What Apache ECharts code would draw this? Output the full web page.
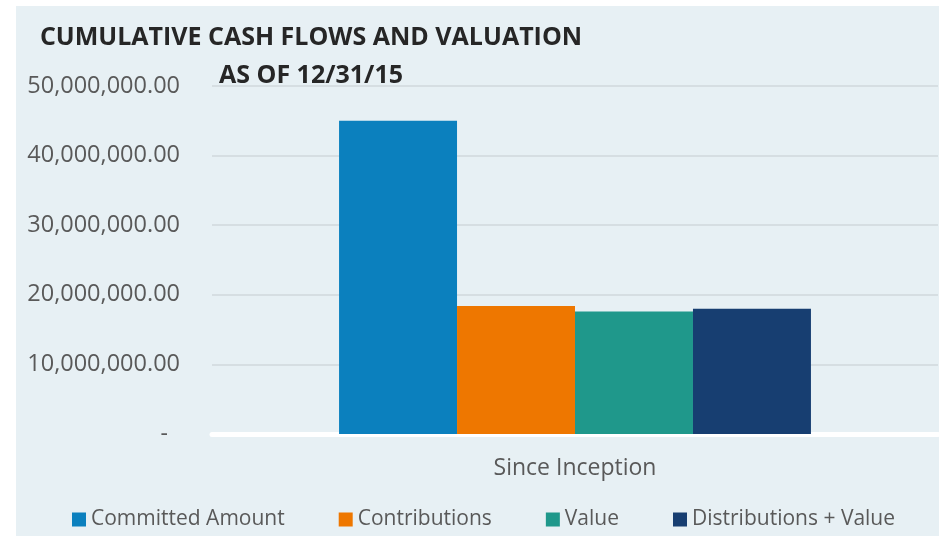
<!DOCTYPE html>
<html>
<head>
<meta charset="utf-8">
<script src="https://cdn.jsdelivr.net/npm/echarts@6/dist/echarts.min.js"></script>
<style>
html,body{margin:0;padding:0;background:#ffffff;}
#chart{width:944px;height:536px;}
</style>
</head>
<body>
<div id="chart"></div>
<script>
var categories = ['Since Inception'];
var seriesNames = ['Committed Amount', 'Contributions', 'Value', 'Distributions + Value'];
var committedAmount = [45000000];
var contributions = [18400000];
var valueData = [17600000];
var distributionsPlusValue = [18000000];
var colors = ['#0B80BE', '#EE7700', '#1F988B', '#173E71'];

var chart = echarts.init(document.getElementById('chart'), null, {renderer: 'canvas'});
var font = '"Open Sans", sans-serif';
var seriesData = [committedAmount, contributions, valueData, distributionsPlusValue];

chart.setOption({
  backgroundColor: '#ffffff',
  animation: false,
  color: colors,
  graphic: [{
    type: 'rect', z: -10, silent: true,
    shape: {x: 16, y: 6, width: 923, height: 530},
    style: {fill: '#E7F0F4'}
  }],
  title: {
    text: 'CUMULATIVE CASH FLOWS AND VALUATION\nAS OF 12/31/15',
    left: 306, top: 14, textAlign: 'center',
    textStyle: {fontFamily: font, fontWeight: 'bold', fontSize: 25, color: '#262626', lineHeight: 38}
  },
  legend: {
    data: seriesNames,
    left: 67, top: 504,
    itemWidth: 14, itemHeight: 14, itemGap: 54,
    icon: 'rect',
    textStyle: {fontFamily: font, fontSize: 21, color: '#595959', padding: [0,0,0,0]}
  },
  grid: {left: 212, right: 6, top: 86, bottom: 102, containLabel: false},
  xAxis: {
    type: 'category', data: categories,
    axisLine: {show: true, lineStyle: {color: '#ffffff', width: 5}},
    axisTick: {show: false},
    axisLabel: {fontFamily: font, fontSize: 23, color: '#595959', margin: 23}
  },
  yAxis: {
    type: 'value', min: 0, max: 50000000, interval: 10000000,
    axisLine: {show: false}, axisTick: {show: false},
    splitLine: {lineStyle: {color: '#D6DEE2', width: 2}},
    axisLabel: {
      fontFamily: font, fontSize: 23.5, color: '#595959', margin: 32,
      formatter: function (v) {
        if (v === 0) return '{d|-}';
        return v.toLocaleString('en-US', {minimumFractionDigits: 2, maximumFractionDigits: 2});
      },
      rich: {d: {fontFamily: font, fontSize: 23, color: '#595959', padding: [0, 12, 0, 0]}}
    }
  },
  series: seriesNames.map(function (n, i) {
    return {
      name: n, type: 'bar', data: seriesData[i],
      barGap: '0%', barCategoryGap: '35%',
      itemStyle: {color: colors[i]}
    };
  })
});
</script>
</body>
</html>
